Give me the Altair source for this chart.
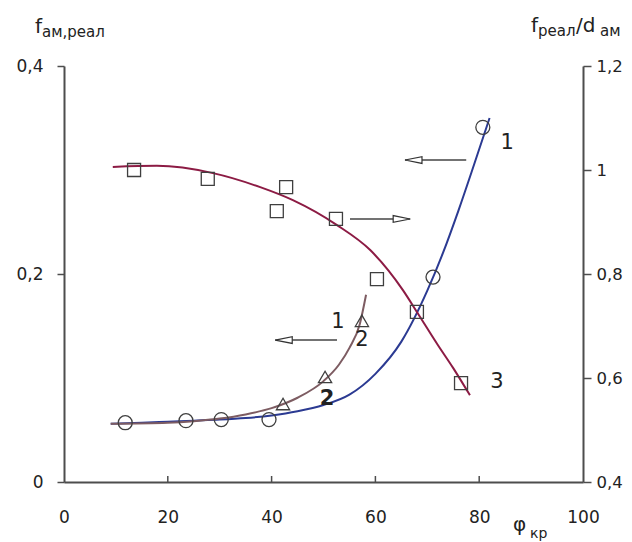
import altair as alt
import pandas as pd

FONT = "DejaVu Sans"
AX = "#4d4d4d"
TXT = "#222222"
MK = "#3f3f3f"

# Curve 1 (blue, left axis)
c1_phi = [9, 15, 20, 25, 30, 35, 40, 45, 50, 55, 60, 65, 70, 73, 76, 79, 82]
c1_f = [0.056, 0.057, 0.058, 0.059, 0.060, 0.0615, 0.064, 0.068, 0.074, 0.084, 0.104,
        0.135, 0.184, 0.220, 0.261, 0.305, 0.350]
# Curve 2 (mauve, left axis)
c2_phi = [9, 20, 25, 30, 35, 40, 45, 50, 53, 55, 57, 58.2]
c2_f = [0.056, 0.057, 0.0585, 0.061, 0.065, 0.071, 0.081, 0.097, 0.113, 0.129, 0.152, 0.180]
# Curve 3 (maroon, right axis)
c3_phi = [9.4, 17.9, 28.7, 37.8, 44.1, 52.6, 59, 65.3, 68, 72, 75, 78.2]
c3_v = [1.006, 1.008, 0.994, 0.967, 0.942, 0.894, 0.846, 0.769, 0.727, 0.664, 0.619, 0.567]

# measured points
circ_phi = [11.8, 23.5, 30.3, 39.5, 71.1, 80.7]
circ_f = [0.057, 0.059, 0.060, 0.060, 0.197, 0.341]
tri_phi = [42.2, 50.3, 57.4]
tri_f = [0.075, 0.101, 0.155]
sq_phi = [13.5, 27.7, 42.8, 41.0, 52.4, 60.3, 68.0, 76.5]
sq_v = [1.000, 0.983, 0.967, 0.921, 0.906, 0.790, 0.727, 0.590]

# annotations (left-axis units)
arrL_tip = [65.7, 40.7]
arrL_tail = [77.5, 52.6]
arrL_f = [0.3096, 0.1365]
arrR_tip = [66.7]
arrR_tail = [55.1]
arrR_f = [0.2529]
lab_text = ["1", "1", "2", "3"]
lab_phi = [85.4, 52.8, 57.4, 83.4]
lab_f = [0.326, 0.154, 0.1365, 0.0962]
labB_text = ["2"]
labB_phi = [50.7]
labB_f = [0.0800]
xtick_vals = [20, 40, 60, 80]

W, H = 519, 416

xenc = alt.X("phi:Q", scale=alt.Scale(domain=[0, 100], nice=False, zero=False),
             axis=alt.Axis(values=[0, 20, 40, 60, 80, 100], ticks=False, domainColor=AX,
                           domainWidth=2, labelFont=FONT, labelFontSize=17, labelColor=TXT,
                           labelPadding=27, grid=False, title=None, labelFlush=False))
left_axis = alt.Axis(values=[0, 0.2, 0.4], labelExpr="replace(format(datum.value,'~g'),'.',',')",
                     tickSize=7, tickColor=AX, tickWidth=1.5, domainColor=AX, domainWidth=2,
                     labelPadding=14, grid=False, title=None, labelFont=FONT,
                     labelFontSize=17, labelColor=TXT)
yL = alt.Y("f:Q", scale=alt.Scale(domain=[0, 0.4], nice=False, zero=False), axis=left_axis)
right_axis = alt.Axis(values=[0.4, 0.6, 0.8, 1.0, 1.2], orient="right",
                      labelExpr="replace(format(datum.value,'~g'),'.',',')",
                      tickSize=8, tickColor=AX, tickWidth=1.5, domainColor=AX, domainWidth=2,
                      labelPadding=5, grid=False, title=None, labelFont=FONT,
                      labelFontSize=16.5, labelColor=TXT)
yR = alt.Y("v:Q", scale=alt.Scale(domain=[0.4, 1.2], nice=False, zero=False), axis=right_axis)

d1 = pd.DataFrame({"phi": c1_phi, "f": c1_f})
d2 = pd.DataFrame({"phi": c2_phi, "f": c2_f})
d3 = pd.DataFrame({"phi": c3_phi, "v": c3_v})
dc = pd.DataFrame({"phi": circ_phi, "f": circ_f})
dt = pd.DataFrame({"phi": tri_phi, "f": tri_f})
ds = pd.DataFrame({"phi": sq_phi, "v": sq_v})
daL = pd.DataFrame({"phi": arrL_tip, "phi2": arrL_tail, "f": arrL_f})
daR = pd.DataFrame({"phi": arrR_tip, "phi2": arrR_tail, "f": arrR_f})
dl = pd.DataFrame({"phi": lab_phi, "f": lab_f, "t": lab_text})
dlb = pd.DataFrame({"phi": labB_phi, "f": labB_f, "t": labB_text})
dx = pd.DataFrame({"phi": xtick_vals})

line1 = alt.Chart(d1).mark_line(color="#2b3a92", strokeWidth=2, interpolate="monotone").encode(x=xenc, y=yL)
line2 = alt.Chart(d2).mark_line(color="#7d5c62", strokeWidth=2, interpolate="monotone").encode(x=xenc, y=yL)
circ = alt.Chart(dc).mark_point(shape="circle", filled=False, color=MK, size=196, strokeWidth=1.3, opacity=1).encode(x=xenc, y=yL)
tri = alt.Chart(dt).mark_point(shape="triangle-up", filled=False, color=MK, size=175, strokeWidth=1.3, opacity=1).encode(x=xenc, y=yL)

rulesL = alt.Chart(daL).mark_rule(color="#444", strokeWidth=1.5).encode(x=xenc, x2="phi2:Q", y=yL)
rulesR = alt.Chart(daR).mark_rule(color="#444", strokeWidth=1.5).encode(x=xenc, x2="phi2:Q", y=yL)
headL = alt.Chart(daL).mark_point(shape="M0,0L2,-0.4L2,0.4Z", size=289, filled=True, fill="white",
                                  stroke="#333", strokeWidth=1.2, opacity=1).encode(x=xenc, y=yL)
headR = alt.Chart(daR).mark_point(shape="M0,0L-2,-0.4L-2,0.4Z", size=289, filled=True, fill="white",
                                  stroke="#333", strokeWidth=1.2, opacity=1).encode(x=xenc, y=yL)
labels = alt.Chart(dl).mark_text(font=FONT, fontSize=21, color=TXT, align="center",
                                 baseline="middle").encode(x=xenc, y=yL, text="t:N")
labelsB = alt.Chart(dlb).mark_text(font=FONT, fontSize=21, fontWeight="bold", color=TXT, align="center",
                                   baseline="middle").encode(x=xenc, y=yL, text="t:N")
xticks = alt.Chart(dx).mark_rule(color=AX, strokeWidth=1.5).encode(
    x=xenc, y=alt.value(H - 6), y2=alt.value(H))

# axis titles (text pieces with subscripts)
tdf = pd.DataFrame({"a": [0]})
def txt(s, x, y, size):
    return alt.Chart(tdf).mark_text(text=s, font=FONT, fontSize=size, color=TXT, align="left",
                                    baseline="alphabetic").encode(x=alt.value(x), y=alt.value(y))

titles = [
    txt("f", -29, -33, 20), txt("ам,реал", -22, -29, 15),
    txt("f", 467, -34, 20), txt("реал", 474, -30, 15), txt("/d", 512, -34, 20), txt("ам", 536, -30, 15),
    txt("φ", 449, 465, 20), txt("кр", 466, 472, 14),
]

left = alt.layer(xticks, line1, line2, circ, tri, rulesL, rulesR, headL, headR, labels, labelsB, *titles)

line3 = alt.Chart(d3).mark_line(color="#8c1b44", strokeWidth=2, interpolate="monotone").encode(x=xenc, y=yR)
sq = alt.Chart(ds).mark_point(shape="square", filled=False, color=MK, size=169, strokeWidth=1.3, opacity=1).encode(x=xenc, y=yR)
right = alt.layer(line3, sq)

chart = alt.layer(left, right).resolve_scale(y="independent").properties(
    width=W, height=H,
    autosize=alt.AutoSizeParams(type="none"),
    padding={"left": 56, "top": 58, "right": 41, "bottom": 62},
).configure_view(stroke=None)

chart.save("out.html", embed_options={"renderer": "svg", "actions": False})
